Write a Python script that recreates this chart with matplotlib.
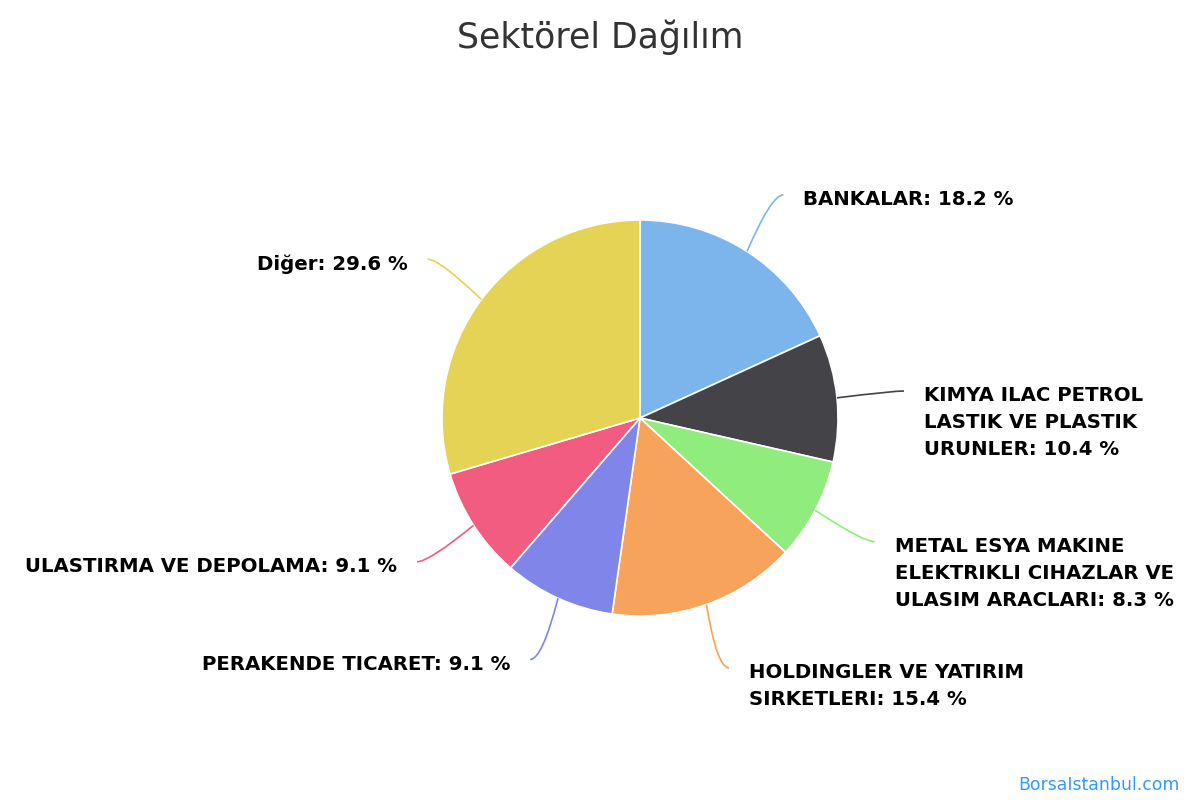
import numpy as np
import matplotlib.pyplot as plt
from matplotlib.path import Path
from matplotlib.patches import PathPatch

sectors = ['BANKALAR', 'KIMYA ILAC PETROL\nLASTIK VE PLASTIK\nURUNLER',
           'METAL ESYA MAKINE\nELEKTRIKLI CIHAZLAR VE\nULASIM ARACLARI',
           'HOLDINGLER VE YATIRIM\nSIRKETLERI', 'PERAKENDE TICARET',
           'ULASTIRMA VE DEPOLAMA', 'Diğer']
shares = [18.2, 10.4, 8.3, 15.4, 9.1, 9.1, 29.6]
colors = ['#7cb5ec', '#434348', '#90ed7d', '#f7a35c', '#8085e9', '#f15c80', '#e4d354']

W, H = 1200, 800
cx, cy, R = 640, 800 - 418, 198

fig = plt.figure(figsize=(12, 8), dpi=100)
ax = fig.add_axes([0, 0, 1, 1])
ax.pie(shares, colors=colors, startangle=90, counterclock=False,
       center=(cx, cy), radius=R,
       wedgeprops=dict(edgecolor='white', linewidth=1.2))
ax.set_xlim(0, W)
ax.set_ylim(0, H)
ax.set_aspect('equal')
ax.axis('off')

# labels with connectors
total = sum(shares)
cum = 0
for name, val, col in zip(sectors, shares, colors):
    mid = np.deg2rad(90 - 360 * (cum + val / 2) / total)
    cum += val
    ex, ey = cx + R * np.cos(mid), cy + R * np.sin(mid)
    ax_, ay_ = cx + 1.34 * R * np.cos(mid), cy + 1.34 * R * np.sin(mid)
    s = 1 if np.cos(mid) >= 0 else -1
    verts = [(ex, ey), (ax_ - 12 * s, ay_), (ax_, ay_)]
    path = Path(verts, [Path.MOVETO, Path.CURVE3, Path.CURVE3])
    ax.add_patch(PathPatch(path, facecolor='none', edgecolor=col, lw=1.2))
    ax.text(ax_ + 20 * s, ay_ + 5, f'{name}: {val} %',
            ha='left' if s > 0 else 'right', va='top',
            fontsize=14.2, fontweight='bold', color='black', linespacing=1.55)

fig.text(0.5, 1 - 37 / H, 'Sektörel Dağılım', ha='center', va='center',
         fontsize=25, color='#333333')
fig.text(1 - 20 / W, 15 / H, 'BorsaIstanbul.com', ha='right', va='center',
         fontsize=12.4, color='#3399ff')

fig.savefig('out.png', dpi=100)
